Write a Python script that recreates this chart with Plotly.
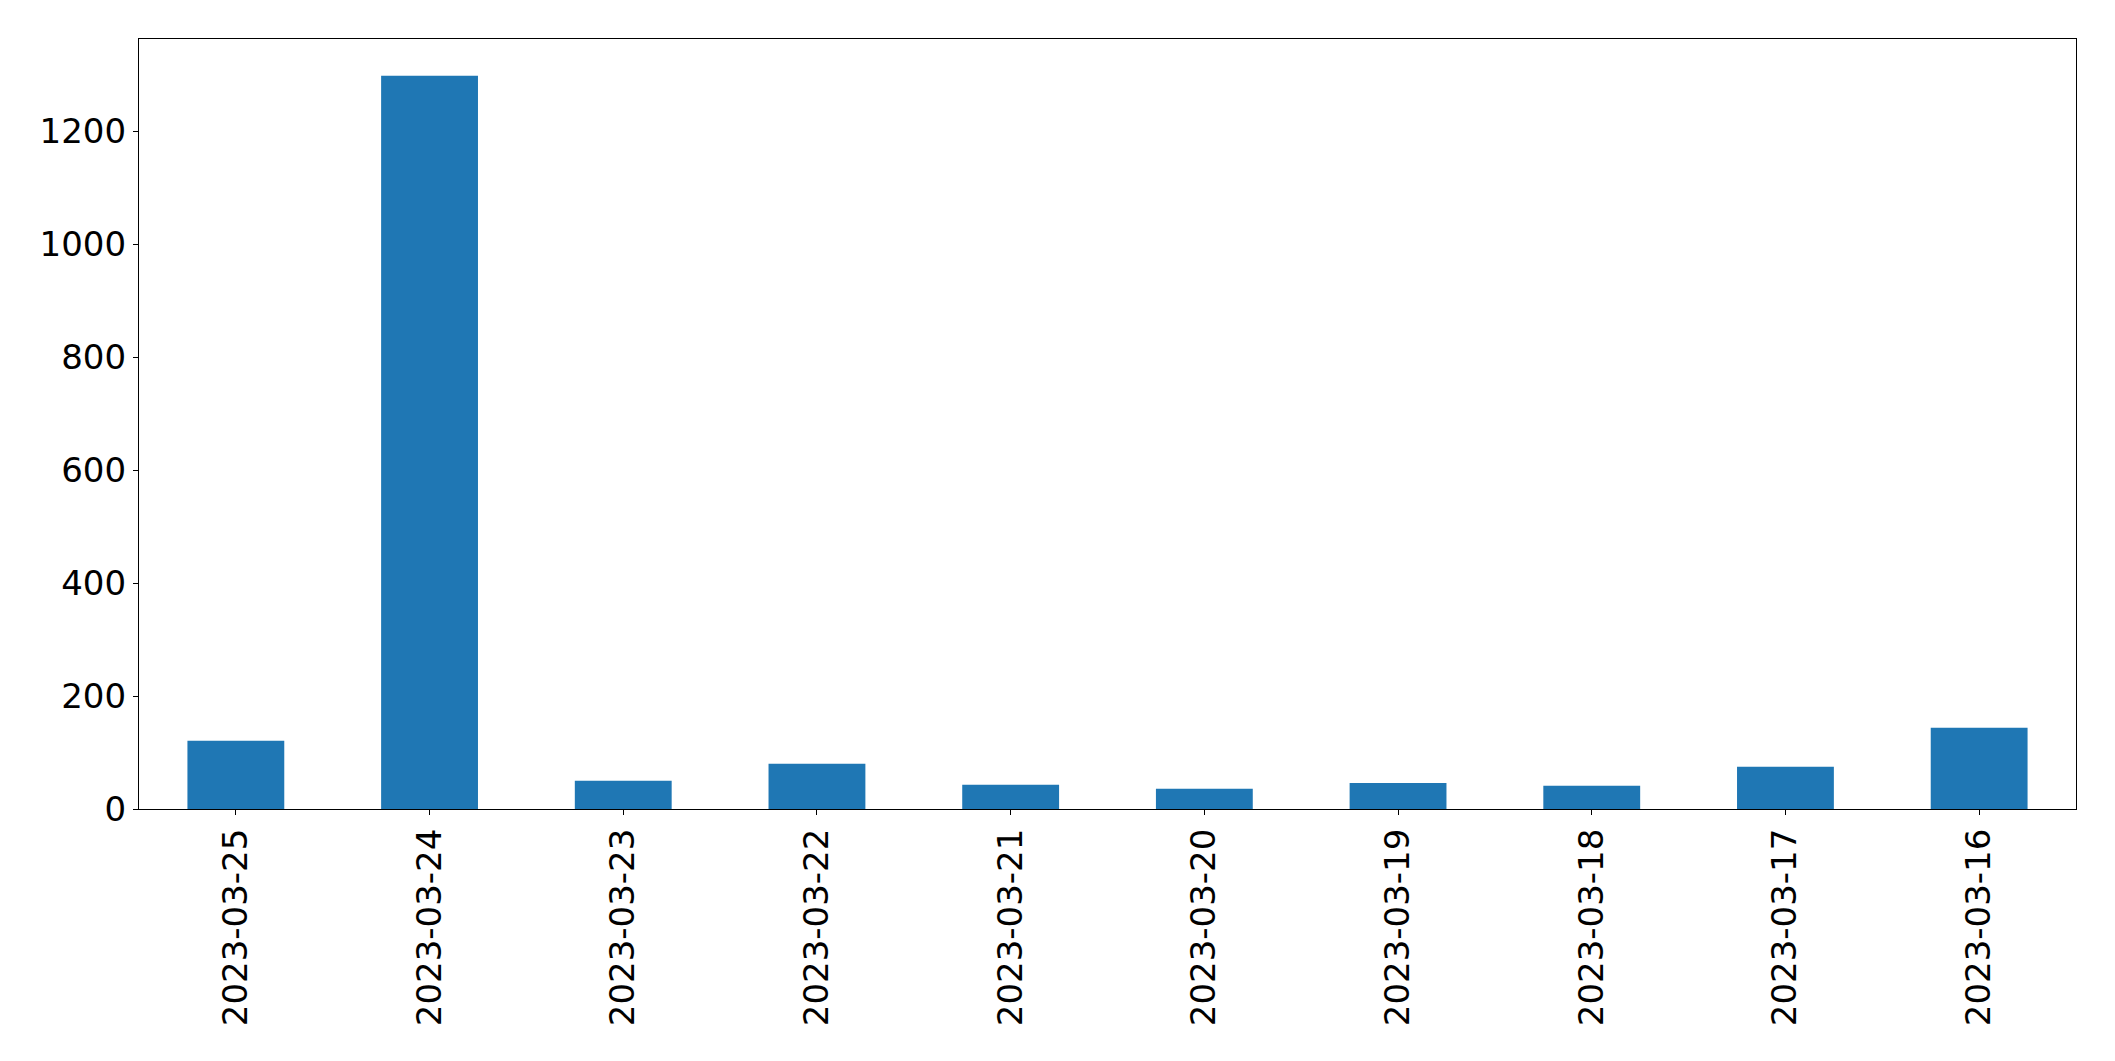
import plotly.graph_objects as go

dates = ["2023-03-25", "2023-03-24", "2023-03-23", "2023-03-22", "2023-03-21",
         "2023-03-20", "2023-03-19", "2023-03-18", "2023-03-17", "2023-03-16"]
counts = [121, 1298, 50, 80, 43, 36, 46, 41, 75, 144]
y_ticks = [0, 200, 400, 600, 800, 1000, 1200]

fig = go.Figure(go.Bar(x=dates, y=counts, marker=dict(color="#1f77b4", line=dict(width=0)),
                       width=0.5))

font = dict(family="DejaVu Sans", size=34, color="black")
fig.update_layout(
    width=2099, height=1045,
    margin=dict(l=130.5, r=30.7, t=31.3, b=243.7, pad=0),
    paper_bgcolor="white", plot_bgcolor="white",
    showlegend=False,
    font=font,
)
fig.update_xaxes(
    type="category", range=[-0.5, len(dates) - 0.5],
    showline=True, linecolor="black", linewidth=1.1, mirror=True,
    ticks="outside", ticklen=5, tickwidth=1.1, tickcolor="black",
    tickangle=-90, tickfont=font, showgrid=False, zeroline=False,
)
fig.update_yaxes(
    range=[0, max(counts) * 1.05],
    tickvals=y_ticks, ticktext=[str(v) for v in y_ticks],
    showline=True, linecolor="black", linewidth=1.1, mirror=True,
    ticks="outside", ticklen=5, tickwidth=1.1, tickcolor="black",
    tickfont=font, showgrid=False, zeroline=False,
)
fig.write_html("out.html")
